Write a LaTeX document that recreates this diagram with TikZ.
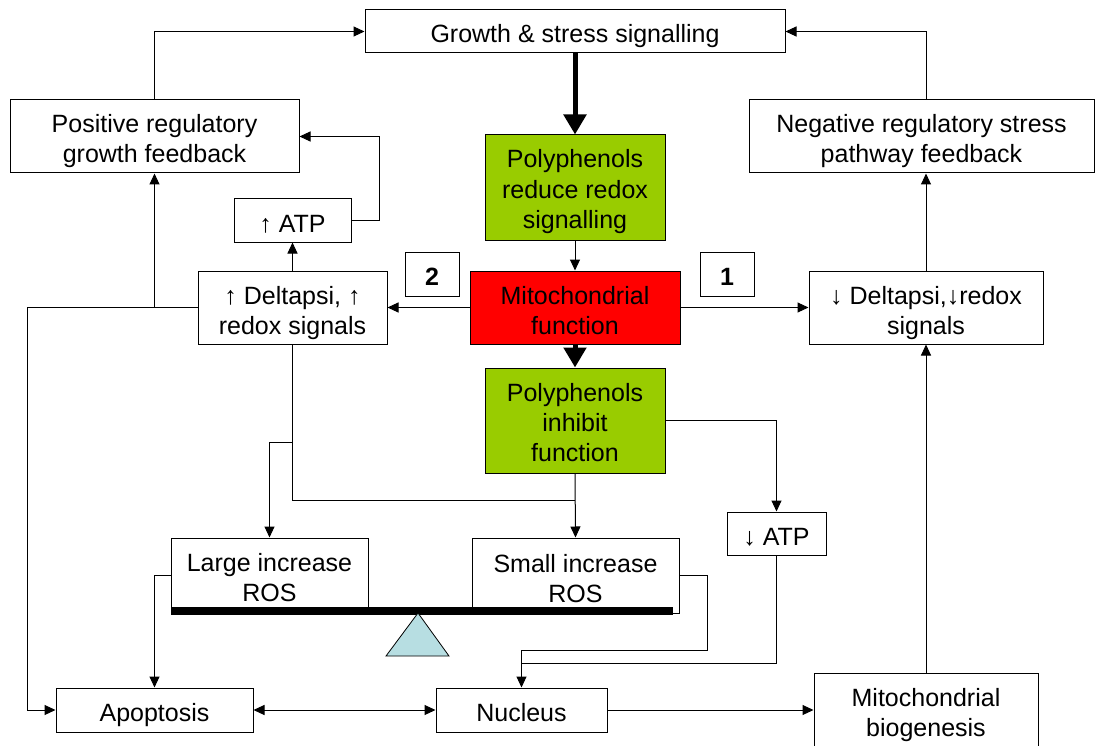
\documentclass[tikz,border=0pt]{standalone}
\usepackage{fontspec}
\setmainfont{Liberation Sans}
\usetikzlibrary{arrows.meta}
\definecolor{polygreen}{RGB}{153,204,0}
\definecolor{mitored}{RGB}{255,0,0}
\definecolor{pivotblue}{RGB}{183,222,226}

\begin{document}
\begin{tikzpicture}[x=1pt,y=-1pt,
    font=\fontsize{25}{30}\selectfont,
    oneline/.style={text height=23pt},
    twolines/.style={text height=53pt},
    threelines/.style={text height=81pt},
    arr/.style={line width=1pt,-{Triangle[length=11pt,width=10pt]}},
    dblarr/.style={line width=1pt,{Triangle[length=11pt,width=10pt]}-{Triangle[length=11pt,width=10pt]}},
    bigarr/.style={line width=5pt,-{Triangle[length=20pt,width=22pt]}}]
    \useasboundingbox (0,0) rectangle (1097,746);
    \begin{scope}[every node/.style={rectangle,draw=black,line width=1pt,align=center,inner sep=0pt,text depth=0pt}]
        \node[oneline,minimum width=420pt,minimum height=43pt] (growth) at (575,31.5) {Growth \& stress signalling};
        \node[twolines,minimum width=289pt,minimum height=73pt] (posfb) at (154.5,136.5) {Positive regulatory\\growth feedback};
        \node[twolines,minimum width=345pt,minimum height=73pt] (negfb) at (921.5,136.5) {Negative regulatory stress\\pathway feedback};
        \node[threelines,fill=polygreen,minimum width=180pt,minimum height=105pt] (reduce) at (575,187.5) {Polyphenols\\reduce redox\\signalling};
        \node[twolines,fill=mitored,minimum width=210pt,minimum height=73pt] (mito) at (575,307.5) {Mitochondrial\\function};
        \node[threelines,fill=polygreen,minimum width=180pt,minimum height=105pt] (inhibit) at (575,420.5) {Polyphenols\\inhibit\\function};
        \node[oneline,minimum width=117pt,minimum height=43pt] (atpup) at (292.5,220.5) {↑ ATP};
        \node[twolines,minimum width=189pt,minimum height=73pt] (deltaup) at (292.5,307.5) {↑ Deltapsi, ↑\\redox signals};
        \node[twolines,minimum width=234pt,minimum height=73pt] (deltadown) at (926,307.5) {↓ Deltapsi,↓redox\\signals};
        \node[oneline,minimum width=54pt,minimum height=44pt] (two) at (432,274) {\textbf{2}};
        \node[oneline,minimum width=54pt,minimum height=44pt] (one) at (727,274) {\textbf{1}};
        \node[oneline,minimum width=99pt,minimum height=43pt] (atpdown) at (776.5,533.5) {↓ ATP};
        \node[twolines,minimum width=197pt,minimum height=74pt] (large) at (269.5,575) {Large increase\\ROS};
        \node[twolines,minimum width=207pt,minimum height=75pt] (small) at (575.5,575.5) {Small increase\\ROS};
        \node[oneline,minimum width=197pt,minimum height=44pt] (apopt) at (154.5,710) {Apoptosis};
        \node[oneline,minimum width=171pt,minimum height=44pt] (nucleus) at (521.5,710) {Nucleus};
        \node[text height=50pt,minimum width=224pt,minimum height=76pt] (biogen) at (926,711) {Mitochondrial\\biogenesis};
    \end{scope}
    % balance beam
    \fill (171,607) rectangle (673,615);
    \draw[fill=pivotblue,line width=0.8pt] (418,613) -- (449,656) -- (386,656) -- cycle;
    % helper points
    \coordinate (left) at (27,307.5);
    \coordinate (join) at (575,500);
    \coordinate (split) at (292.5,442);
    \coordinate (rosin) at (521.5,650);
    \coordinate (atpin) at (521.5,663);
    \begin{scope}
        \draw[bigarr] (growth) -- (reduce);
        \draw[arr] (reduce) -- (mito);
        \draw[bigarr] (mito) -- (inhibit);
        \draw[arr] (posfb.north) |- (growth.west);
        \draw[arr] (deltadown.north |- negfb.north) |- (growth.east);
        \draw[arr] (mito.west) -- (deltaup.east);
        \draw[arr] (mito.east) -- (deltadown.west);
        \draw[arr] (deltadown.north) -- (deltadown.north |- negfb.south);
        \draw[arr] (deltaup.north) -- (atpup.south);
        \draw[arr] (atpup.east) -- ++(28,0) |- (posfb.east);
        \draw[arr] (posfb.south |- deltaup.west) -- (posfb.south);
        \draw[arr] (deltaup.west) -- (left) |- (apopt.west);
        \draw (deltaup.south) |- (join);
        \draw[arr] (inhibit.south) -- (small.north);
        \draw[arr] (split) -| (large.north);
        \draw[arr] (inhibit.east) -| (atpdown.north);
        \draw[arr] (large.west) -| (apopt.north);
        \draw (small.east) -- ++(28,0) |- (rosin);
        \draw (atpdown.south) |- (atpin);
        \draw[arr] (rosin) -- (nucleus.north);
        \draw[dblarr] (apopt.east) -- (nucleus.west);
        \draw[arr] (nucleus.east) -- (nucleus.east -| biogen.west);
        \draw[arr] (biogen.north) -- (deltadown.south);
    \end{scope}
\end{tikzpicture}
\end{document}
